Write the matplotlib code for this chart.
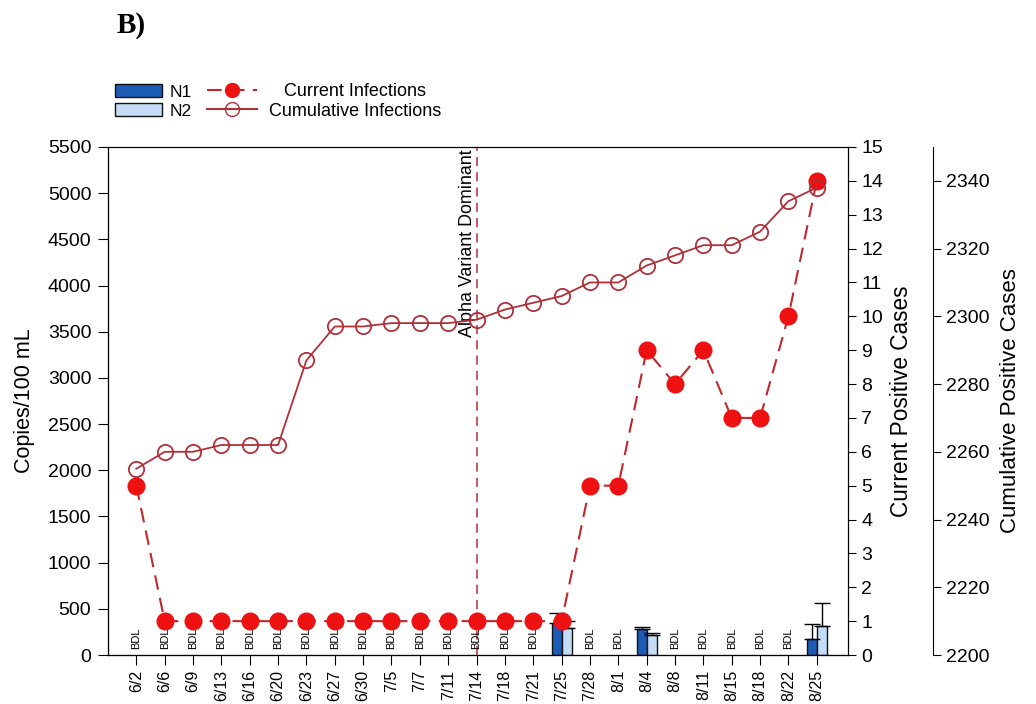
import numpy as np
from matplotlib import pyplot as plt
from matplotlib.patches import Patch
from matplotlib.lines import Line2D

plt.rcParams['font.family'] = ['Liberation Sans', 'DejaVu Sans']

dates = ['6/2', '6/6', '6/9', '6/13', '6/16', '6/20', '6/23', '6/27', '6/30',
         '7/5', '7/7', '7/11', '7/14', '7/18', '7/21', '7/25', '7/28', '8/1',
         '8/4', '8/8', '8/11', '8/15', '8/18', '8/22', '8/25']
current = [5, 1, 1, 1, 1, 1, 1, 1, 1, 1, 1, 1, 1, 1, 1, 1, 5, 5,
           9, 8, 9, 7, 7, 10, 14]
cumulative = [2255, 2260, 2260, 2262, 2262, 2262, 2287, 2297, 2297, 2298,
              2298, 2298, 2299, 2302, 2304, 2306, 2310, 2310, 2315, 2318,
              2321, 2321, 2325, 2334, 2338]
# wastewater copies, None = below detection limit
n1 = [None] * 15 + [350, None, None, 280] + [None] * 5 + [177]
n2 = [None] * 15 + [290, None, None, 215] + [None] * 5 + [318]
n1_err = [None] * 15 + [110, None, None, 25] + [None] * 5 + [155]
n2_err = [None] * 15 + [80, None, None, 25] + [None] * 5 + [250]

x = np.arange(len(dates))

fig = plt.figure(figsize=(10.36, 7.04), dpi=100)
ax = fig.add_axes([0.1042, 0.0696, 0.7143, 0.7216])
ax2 = ax.twinx()
ax3 = ax.twinx()

w = 0.35
for i in range(len(dates)):
    if n1[i] is None:
        ax.text(x[i], 65, 'BDL', rotation=90, ha='center', va='bottom',
                fontsize=8)
        continue
    ax.bar(x[i] - w / 2, n1[i], width=w, color='#1c5cb4', edgecolor='#111',
           linewidth=1, yerr=[[0], [n1_err[i]]], capsize=6,
           error_kw={'elinewidth': 1, 'capthick': 1})
    ax.bar(x[i] + w / 2, n2[i], width=w, color='#c4dcf6', edgecolor='#111',
           linewidth=1, yerr=[[0], [n2_err[i]]], capsize=6,
           error_kw={'elinewidth': 1, 'capthick': 1})

ax.axvline(12, color='#b03035', linestyle=(0, (6, 4)), linewidth=1.1)
ax.text(11.97, 5470, 'Alpha Variant Dominant', rotation=90, ha='right',
        va='top', fontsize=12.9)

ax.set_xlim(-1, 25.1)
ax.set_ylim(0, 5500)
ax.set_yticks(np.arange(0, 5501, 500))
ax.set_xticks(x)
ax.set_xticklabels(dates, rotation=90, fontsize=11.5)
ax.tick_params(axis='y', labelsize=14, direction='out', length=7, pad=5)
ax.tick_params(axis='x', direction='out', length=7)
ax.set_ylabel('Copies/100 mL', fontsize=15.5)
ax.yaxis.set_label_coords(-0.0986, 0.5)

ax2.plot(x, current, color='#c0282d', linestyle=(0, (7, 4)), linewidth=1.5,
         marker='o', markersize=12, markerfacecolor='#ee1111',
         markeredgecolor='#ee1111', zorder=5)
ax2.set_ylim(0, 15)
ax2.set_yticks(np.arange(0, 16, 1))
ax2.tick_params(axis='y', labelsize=14, direction='out', length=6)
ax2.set_ylabel('Current Positive Cases', fontsize=16.3)
ax2.yaxis.set_label_coords(1.057, 0.5)

ax3.plot(x, cumulative, color='#b0303a', linewidth=1.3, marker='o',
         markersize=11, markerfacecolor='none', markeredgecolor='#b0303a',
         markeredgewidth=1.3, zorder=4)
ax3.set_ylim(2200, 2350)
ax3.set_yticks(np.arange(2200, 2341, 20))
ax3.spines['right'].set_position(('axes', 1.115))
ax3.spines['top'].set_visible(False)
ax3.tick_params(axis='y', labelsize=14, direction='out', length=6)
ax3.set_ylabel('Cumulative Positive Cases', fontsize=16)
ax3.yaxis.set_label_coords(1.205, 0.5)

bars_leg = [
    Patch(facecolor='#1c5cb4', edgecolor='#111', label='N1'),
    Patch(facecolor='#c4dcf6', edgecolor='#111', label='N2'),
]
lines_leg = [
    Line2D([], [], color='#c0282d', linestyle=(0, (7, 4)), marker='o',
           markersize=10, markerfacecolor='#ee1111',
           markeredgecolor='#ee1111'),
    Line2D([], [], color='#b0303a', marker='o', markersize=10,
           markerfacecolor='none', markeredgecolor='#b0303a'),
]
line_labels = ['Current Infections', 'Cumulative Infections']

fig.legend(handles=bars_leg, loc='upper left',
           bbox_to_anchor=(115 / 1036, 1 - 84 / 704), frameon=False,
           fontsize=12.5, handlelength=2.7, handleheight=0.8,
           handletextpad=0.45, labelspacing=0.2, borderpad=0,
           borderaxespad=0)
fig.legend(handles=lines_leg, labels=['', ''], loc='upper left',
           bbox_to_anchor=(207 / 1036, 1 - 84 / 704), frameon=False,
           fontsize=12.5, handlelength=2.9, handleheight=0.8,
           handletextpad=0, labelspacing=0.2, borderpad=0,
           borderaxespad=0)
# legend text is centred in its column, as in the original
for k, lab in enumerate(line_labels):
    fig.text(355 / 1036, 1 - (91 + 20 * k) / 704, lab, fontsize=13,
             ha='center', va='center')

fig.text(117 / 1036, 1 - 33 / 704, 'B)', fontsize=21, fontweight='bold',
         family='Liberation Serif', va='baseline')

fig.savefig('out.png', dpi=100)
